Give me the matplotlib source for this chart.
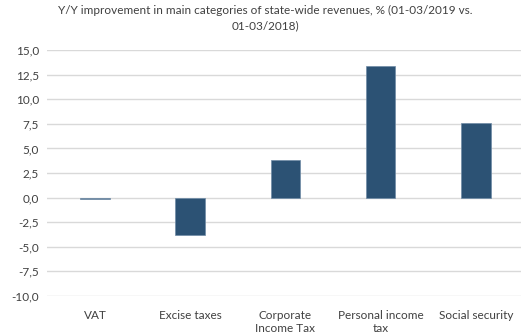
import matplotlib
matplotlib.use("Agg")
import matplotlib.pyplot as plt

categories = ["VAT", "Excise taxes", "Corporate\nIncome Tax", "Personal income\ntax", "Social security"]
values = [-0.1, -3.8, 3.8, 13.4, 7.6]
yticks = [15.0, 12.5, 10.0, 7.5, 5.0, 2.5, 0.0, -2.5, -5.0, -7.5, -10.0]
title = "Y/Y improvement in main categories of state-wide revenues, % (01-03/2019 vs.\n01-03/2018)"

plt.rcParams['font.family'] = ['Lato', 'DejaVu Sans']

fig = plt.figure(figsize=(5.21, 3.34), dpi=100)
ax = fig.add_axes([0.091, 0.114, 0.9136, 0.736])
x = list(range(len(categories)))
ax.bar(x, values, width=0.31, color="#2C5274", edgecolor="#6F8BA6", linewidth=0.5, zorder=3)
ax.set_xlim(-0.5, len(categories) - 0.5)
ax.set_ylim(-10, 15)
ax.set_yticks(yticks)
ax.set_yticklabels([f"{v:.1f}".replace(".", ",") for v in yticks], fontsize=8.5, color="#404040")
ax.set_xticks(x)
ax.set_xticklabels(categories, fontsize=8.5, color="#404040", linespacing=1.2)
ax.tick_params(length=0, pad=6)
ax.tick_params(axis='x', pad=10)
ax.grid(axis='y', color="#D9D9D9", linewidth=1, zorder=0)
for s in ax.spines.values():
    s.set_visible(False)
fig.text(0.51, 0.985, title, ha='center', va='top', fontsize=8.5, color="#404040", linespacing=1.5)
fig.savefig("out.png", dpi=100)
